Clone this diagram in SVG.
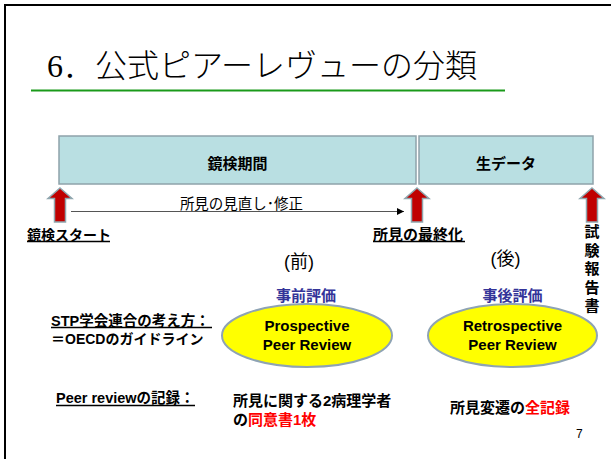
<svg xmlns="http://www.w3.org/2000/svg" width="611" height="459" viewBox="0 0 611 459">
<style>
.t{font-family:"Liberation Sans","Noto Sans CJK JP",sans-serif;fill:#000}
.b{font-weight:bold}
.box{fill:#b9dfe2;stroke:#8fa3aa;stroke-width:1.5}
.arw{fill:#c00000;stroke:#8fa6ae;stroke-width:1.5}
.ell{fill:#ffff00;stroke:#8ea3b4;stroke-width:2}
.ul{stroke:#000;stroke-width:1.3}
.red{fill:#ff0000}
.blue{fill:#343499}
</style>
<defs>
<path id="uparrow" class="arw" d="M0,188 L12,198.5 L5.5,198.5 L5.5,222 L-5.5,222 L-5.5,198.5 L-12,198.5 Z"/>
<marker id="ah" markerWidth="8" markerHeight="8" refX="7" refY="4" orient="auto" markerUnits="userSpaceOnUse">
<path d="M0,0.5 L7,4 L0,7.5 Z" fill="#000"/>
</marker>
</defs>
<rect width="611" height="459" fill="#fff"/>
<rect x="5" y="5" width="640" height="480" fill="none" stroke="#000" stroke-width="2"/>
<g id="title">
<text class="t" x="47" y="77" font-size="32" style="font-family:'Liberation Serif','Noto Sans CJK JP',serif;font-weight:300">6．公式ピアーレヴューの分類</text>
<line x1="31" y1="90.5" x2="505" y2="90.5" stroke="#1a9a1a" stroke-width="2.2"/>
</g>
<g id="box-kenkyo">
<rect class="box" x="59" y="136" width="357" height="48"/>
<text class="t b" x="237.5" y="168.5" font-size="15" text-anchor="middle">鏡検期間</text>
</g>
<g id="box-raw">
<rect class="box" x="419" y="136" width="174" height="48"/>
<text class="t b" x="506" y="168.5" font-size="15" text-anchor="middle">生データ</text>
</g>
<g id="arrow-start"><use href="#uparrow" x="60"/></g>
<g id="arrow-final"><use href="#uparrow" x="417"/></g>
<g id="arrow-report"><use href="#uparrow" x="592"/></g>
<g id="connectors">
<line x1="71" y1="211.5" x2="404" y2="211.5" stroke="#555" stroke-width="1" marker-end="url(#ah)"/>
<text class="t" x="241.5" y="209" font-size="14.5" text-anchor="middle">所見の見直し･修正</text>
</g>
<g id="label-start">
<text class="t b" x="27" y="239.5" font-size="14">鏡検スタート</text>
<line class="ul" x1="27" y1="241.5" x2="110" y2="241.5"/>
</g>
<g id="label-final">
<text class="t b" x="373" y="239.5" font-size="15">所見の最終化</text>
<line class="ul" x1="373" y1="241.5" x2="465" y2="241.5"/>
</g>
<g id="label-report" class="t b" font-size="15" text-anchor="middle">
<text x="592" y="237">試</text>
<text x="592" y="255.5">験</text>
<text x="592" y="274">報</text>
<text x="592" y="292.5">告</text>
<text x="592" y="311">書</text>
</g>
<text class="t" x="299" y="268" font-size="18" text-anchor="middle">(前)</text>
<text class="t" x="505.5" y="264.5" font-size="18" text-anchor="middle">(後)</text>
<g id="prospective">
<text class="t b blue" x="306" y="300.5" font-size="15" text-anchor="middle">事前評価</text>
<ellipse class="ell" cx="307" cy="335.5" rx="85" ry="31.5"/>
<text class="t b" x="307" y="331" font-size="15" text-anchor="middle">Prospective</text>
<text class="t b" x="307" y="350" font-size="15" text-anchor="middle">Peer Review</text>
</g>
<g id="retrospective">
<text class="t b blue" x="512.5" y="300.5" font-size="15" text-anchor="middle">事後評価</text>
<ellipse class="ell" cx="512.5" cy="335.5" rx="84.5" ry="31.5"/>
<text class="t b" x="512.5" y="331" font-size="15" text-anchor="middle">Retrospective</text>
<text class="t b" x="512.5" y="350" font-size="15" text-anchor="middle">Peer Review</text>
</g>
<g id="label-stp">
<text class="t b" x="51" y="325.5" font-size="14.5">STP学会連合の考え方：</text>
<line class="ul" x1="51" y1="327.5" x2="212" y2="327.5"/>
<text class="t b" x="51" y="344" font-size="14">＝OECDのガイドライン</text>
</g>
<g id="label-record">
<text class="t b" x="56" y="403" font-size="14.5">Peer reviewの記録：</text>
<line class="ul" x1="56" y1="405.5" x2="195" y2="405.5"/>
</g>
<g id="record-pro">
<text class="t b" x="233" y="406" font-size="15">所見に関する2病理学者</text>
<text class="t b" x="233" y="425" font-size="15">の<tspan class="red">同意書1枚</tspan></text>
</g>
<g id="record-retro">
<text class="t b" x="450" y="412.5" font-size="15">所見変遷の<tspan class="red">全記録</tspan></text>
</g>
<text class="t" x="576" y="438" font-size="12">7</text>
</svg>
